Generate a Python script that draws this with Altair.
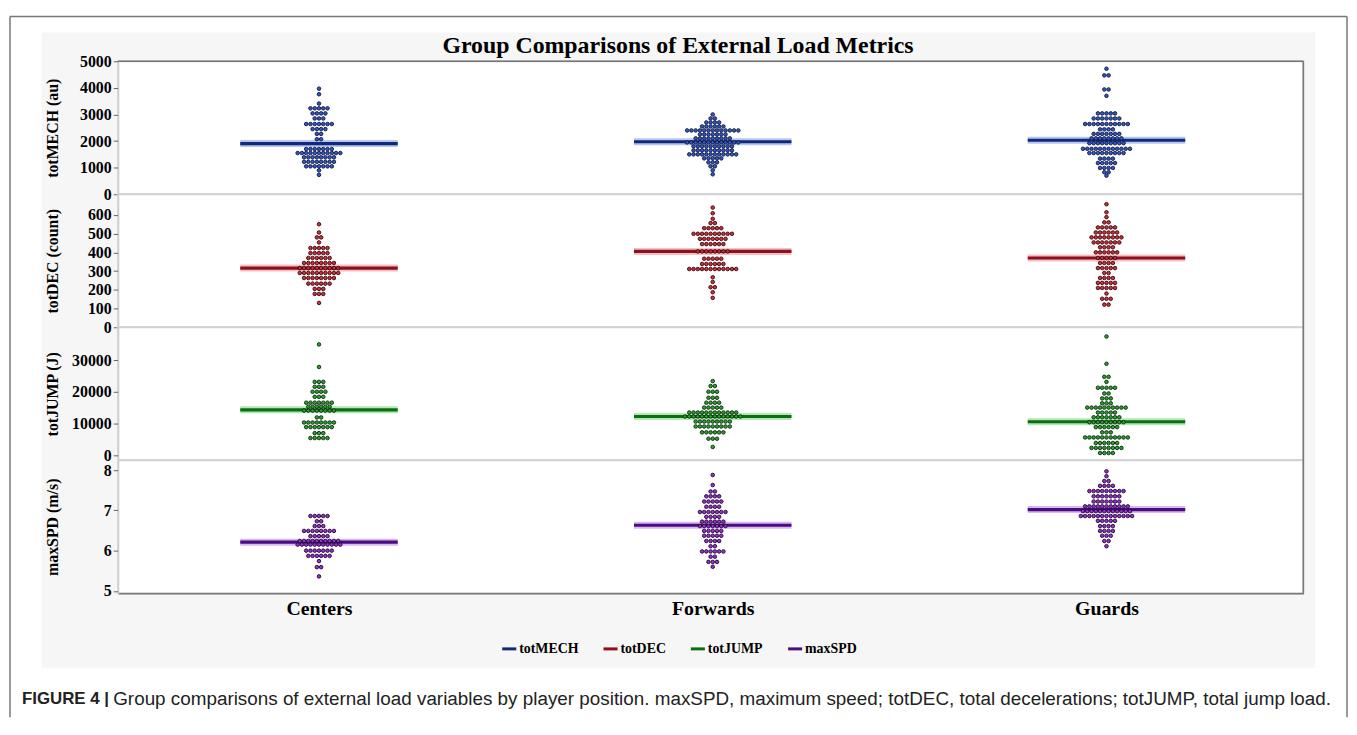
import altair as alt
import pandas as pd

# ---------------- data ----------------
GROUPS = ["Centers", "Forwards", "Guards"]
METRICS = ["totMECH", "totDEC", "totJUMP", "maxSPD"]
AXIS_TITLES = ["totMECH (au)", "totDEC (count)", "totJUMP (J)", "maxSPD (m/s)"]

# totMECH (au): dot rows (value level, number of dots in the row)
MECH_CENTERS_LEVELS = [3970, 3760, 3410, 3230, 3040, 2850, 2640, 2450, 2270, 2070, 1700, 1550, 1390, 1220, 1050, 900, 730]
MECH_CENTERS_COUNTS = [1, 1, 1, 5, 4, 3, 7, 4, 2, 2, 7, 11, 8, 8, 7, 1, 1]
MECH_FORWARDS_LEVELS = [3000, 2850, 2700, 2550, 2400, 2250, 2100, 1950, 1800, 1650, 1500, 1350, 1200, 1050, 900, 750]
MECH_FORWARDS_COUNTS = [1, 2, 4, 6, 13, 7, 9, 13, 10, 10, 12, 5, 3, 2, 1, 1]
MECH_GUARDS_LEVELS = [4720, 4470, 3940, 3700, 3040, 2850, 2640, 2440, 2270, 2100, 1920, 1710, 1550, 1340, 1175, 990, 830, 700]
MECH_GUARDS_COUNTS = [1, 2, 2, 1, 5, 7, 11, 4, 7, 8, 9, 12, 9, 4, 5, 4, 2, 1]

# totDEC (count)
DEC_CENTERS_LEVELS = [550, 506, 480, 453, 423, 396, 370, 343, 316, 290, 263, 233, 205, 178, 130]
DEC_CENTERS_COUNTS = [1, 1, 2, 1, 5, 5, 6, 8, 10, 10, 8, 6, 3, 3, 1]
DEC_FORWARDS_LEVELS = [639, 609, 579, 556, 529, 499, 472, 444, 405, 366, 338, 311, 267, 242, 214, 187, 157]
DEC_FORWARDS_COUNTS = [1, 1, 1, 2, 5, 10, 7, 6, 8, 5, 6, 12, 1, 1, 2, 1, 1]
DEC_GUARDS_LEVELS = [657, 614, 588, 560, 533, 506, 480, 453, 427, 400, 370, 343, 316, 290, 263, 237, 210, 180, 152, 121]
DEC_GUARDS_COUNTS = [1, 1, 1, 2, 5, 6, 8, 7, 4, 6, 5, 4, 5, 2, 4, 5, 5, 1, 3, 2]

# totJUMP (J)
JUMP_CENTERS_LEVELS = [35000, 27900, 23200, 21650, 20100, 18500, 16650, 15400, 14150, 12000, 10400, 8950, 7050, 5500]
JUMP_CENTERS_COUNTS = [1, 1, 3, 3, 4, 3, 7, 6, 8, 2, 8, 7, 3, 5]
JUMP_FORWARDS_LEVELS = [23450, 21900, 20100, 18200, 16650, 15100, 13550, 12300, 10700, 9150, 7300, 5300, 2700]
JUMP_FORWARDS_COUNTS = [1, 2, 3, 3, 4, 5, 12, 14, 9, 9, 6, 3, 1]
JUMP_GUARDS_LEVELS = [37500, 28900, 24800, 23200, 21350, 19550, 18000, 16450, 15100, 13550, 12050, 10500, 8950, 7300, 5700, 3950, 2400, 800]
JUMP_GUARDS_COUNTS = [1, 1, 2, 1, 5, 2, 3, 3, 10, 5, 7, 9, 6, 3, 11, 6, 8, 4]

# maxSPD (m/s)
SPD_CENTERS_LEVELS = [6.86, 6.73, 6.61, 6.49, 6.36, 6.24, 6.15, 6.00, 5.87, 5.74, 5.59, 5.36]
SPD_CENTERS_COUNTS = [5, 2, 3, 8, 5, 10, 11, 7, 6, 1, 2, 1]
SPD_FORWARDS_LEVELS = [7.88, 7.63, 7.47, 7.35, 7.22, 7.09, 6.96, 6.84, 6.72, 6.61, 6.49, 6.37, 6.24, 6.11, 5.98, 5.85, 5.72, 5.60]
SPD_FORWARDS_COUNTS = [1, 1, 2, 4, 5, 4, 7, 4, 6, 7, 5, 5, 4, 2, 6, 2, 3, 1]
SPD_GUARDS_LEVELS = [7.97, 7.85, 7.73, 7.61, 7.48, 7.35, 7.22, 7.10, 6.98, 6.86, 6.74, 6.61, 6.49, 6.37, 6.24, 6.11]
SPD_GUARDS_COUNTS = [1, 1, 2, 4, 9, 7, 7, 11, 12, 13, 5, 4, 4, 3, 2, 1]

# group means (horizontal bars)
MECH_MEANS = [1905, 1975, 2030]
DEC_MEANS = [316, 405, 370]
JUMP_MEANS = [14400, 12300, 10650]
SPD_MEANS = [6.21, 6.63, 7.02]

Y_DOMAINS = [[0, 5000], [0, 710], [-1500, 40400], [4.94, 8.245]]
Y_TICKS = [[0, 1000, 2000, 3000, 4000, 5000],
           [0, 100, 200, 300, 400, 500, 600],
           [0, 10000, 20000, 30000],
           [5, 6, 7, 8]]

TITLE = "Group Comparisons of External Load Metrics"
CAPTION_BOLD = "FIGURE 4 |"
CAPTION_TEXT = ("Group comparisons of external load variables by player position. "
                "maxSPD, maximum speed; totDEC, total decelerations; totJUMP, total jump load.")

# ---------------- styling ----------------
LINE_COLORS = ["#13287a", "#8c1020", "#0c6e12", "#4b0c80"]
GLOW_COLORS = ["#5b82d9", "#e8707c", "#55cc55", "#a860e8"]
DOT_FILL = ["#3558c0", "#c8323f", "#2fa030", "#9333d0"]
DOT_STROKE = ["#0b1540", "#3a0508", "#07280a", "#220532"]

SERIF = "Liberation Serif"
SANS = "Liberation Sans"
W, H = 1194, 134
X_DOMAIN = [-0.51, 2.50]
PX_PER_UNIT = W / (X_DOMAIN[1] - X_DOMAIN[0])
STEP = 4.3 / PX_PER_UNIT     # horizontal dot spacing inside a swarm row
HALF = 0.2                   # half width of the mean bar

LEVELS = [
    [MECH_CENTERS_LEVELS, MECH_FORWARDS_LEVELS, MECH_GUARDS_LEVELS],
    [DEC_CENTERS_LEVELS, DEC_FORWARDS_LEVELS, DEC_GUARDS_LEVELS],
    [JUMP_CENTERS_LEVELS, JUMP_FORWARDS_LEVELS, JUMP_GUARDS_LEVELS],
    [SPD_CENTERS_LEVELS, SPD_FORWARDS_LEVELS, SPD_GUARDS_LEVELS],
]
COUNTS = [
    [MECH_CENTERS_COUNTS, MECH_FORWARDS_COUNTS, MECH_GUARDS_COUNTS],
    [DEC_CENTERS_COUNTS, DEC_FORWARDS_COUNTS, DEC_GUARDS_COUNTS],
    [JUMP_CENTERS_COUNTS, JUMP_FORWARDS_COUNTS, JUMP_GUARDS_COUNTS],
    [SPD_CENTERS_COUNTS, SPD_FORWARDS_COUNTS, SPD_GUARDS_COUNTS],
]
MEANS = [MECH_MEANS, DEC_MEANS, JUMP_MEANS, SPD_MEANS]


def swarm_rows(levels, counts, gi):
    rows = []
    for v, n in zip(levels, counts):
        for i in range(n):
            rows.append({"x": gi + (i - (n - 1) / 2) * STEP, "value": v, "group": GROUPS[gi]})
    return rows


ONE = pd.DataFrame({"k": [0]})


def deco_rect(x, x2, y, y2, **kw):
    return alt.Chart(ONE).mark_rect(**kw).encode(
        x=alt.value(x), x2=alt.value(x2), y=alt.value(y), y2=alt.value(y2))


def deco_hrule(x, x2, y, **kw):
    return alt.Chart(ONE).mark_rule(**kw).encode(x=alt.value(x), x2=alt.value(x2), y=alt.value(y))


def deco_vrule(x, y, y2, **kw):
    return alt.Chart(ONE).mark_rule(**kw).encode(x=alt.value(x), y=alt.value(y), y2=alt.value(y2))


def panel(k):
    pts = []
    for gi in range(3):
        pts += swarm_rows(LEVELS[k][gi], COUNTS[k][gi], gi)
    pdf = pd.DataFrame(pts)
    mdf = pd.DataFrame({
        "x1": [g - HALF for g in range(3)],
        "x2": [g + HALF for g in range(3)],
        "mean": MEANS[k],
        "metric": [METRICS[k]] * 3,
    })
    xs = alt.Scale(domain=X_DOMAIN, nice=False, zero=False)
    ys = alt.Scale(domain=Y_DOMAINS[k], nice=False, zero=False)
    yaxis = alt.Axis(title=AXIS_TITLES[k], values=Y_TICKS[k], format="d",
                     titleX=-66, titleY=H / 2, titleAlign="center", titleBaseline="middle",
                     titleAngle=270, zindex=2)
    if k == 3:
        xaxis = alt.Axis(values=[0, 1, 2], title=None, ticks=False, domain=True,
                         domainColor="#777777", domainWidth=1.5,
                         labelExpr="datum.value == 0 ? 'Centers' : datum.value == 1 ? 'Forwards' : 'Guards'",
                         labelFontSize=20, labelPadding=5, labelAngle=0, zindex=2)
    else:
        xaxis = None

    glow = alt.Chart(mdf).mark_rule(strokeWidth=7, opacity=0.45, color=GLOW_COLORS[k]).encode(
        x=alt.X("x1:Q", scale=xs, axis=xaxis), x2="x2:Q",
        y=alt.Y("mean:Q", scale=ys, axis=yaxis))
    core = alt.Chart(mdf).mark_rule(strokeWidth=3.2).encode(
        x=alt.X("x1:Q", scale=xs, axis=xaxis), x2="x2:Q",
        y=alt.Y("mean:Q", scale=ys, axis=yaxis),
        color=alt.Color("metric:N",
                        scale=alt.Scale(domain=METRICS, range=LINE_COLORS),
                        legend=alt.Legend(orient="none", legendX=385, legendY=583,
                                          direction="horizontal", title=None,
                                          symbolType="stroke", symbolStrokeWidth=3,
                                          symbolSize=200, labelFont=SERIF,
                                          labelFontWeight="bold", labelFontSize=14,
                                          labelColor="black", columnPadding=18,
                                          labelOffset=1)))
    dots = alt.Chart(pdf).mark_point(filled=True, size=13, opacity=1,
                                     fill=DOT_FILL[k], stroke=DOT_STROKE[k],
                                     strokeWidth=0.9).encode(
        x=alt.X("x:Q", scale=xs, axis=xaxis),
        y=alt.Y("value:Q", scale=ys, axis=yaxis))

    layers = []
    if k == 0:
        # light grey figure panel, white plot area, outer figure frame, title
        layers += [
            deco_rect(-77, 1206, -29, 611, color="#f6f6f6"),
            deco_rect(0, W, 0, H, fill="white", stroke="#d2d2d2", strokeWidth=2),
            deco_vrule(-109, -45, 661, color="#777777", strokeWidth=1.5),
            deco_hrule(-109, 1238, -45, color="#777777", strokeWidth=1.5),
            deco_vrule(1238, -45, 661, color="#777777", strokeWidth=1.5),
            alt.Chart(ONE).mark_text(text=TITLE, font=SERIF, fontWeight="bold",
                                     fontSize=24, color="black", baseline="middle").encode(
                x=alt.value(564), y=alt.value(-15)),
        ]
    layers += [glow, core, dots]
    if k == 3:
        layers += [
            deco_hrule(0, W, -3 * H, color="#777777", strokeWidth=1.5),
            deco_vrule(W, -3 * H, H, color="#777777", strokeWidth=1.5),
            alt.Chart(ONE).mark_text(text=CAPTION_BOLD, font=SANS, fontWeight="bold",
                                     fontSize=17, color="#222222", align="left",
                                     baseline="middle").encode(
                x=alt.value(-97), y=alt.value(241)),
            alt.Chart(ONE).mark_text(text=CAPTION_TEXT, font=SANS, fontSize=19,
                                     color="#222222", align="left",
                                     baseline="middle").encode(
                x=alt.value(-5), y=alt.value(241)),
        ]
    return alt.layer(*layers).properties(width=W, height=H)


chart = alt.vconcat(*[panel(k) for k in range(4)], spacing=0, bounds="flush").properties(
    padding={"left": 0, "top": 4, "right": 0, "bottom": 0},
    background="white"
).configure_view(
    stroke="#d2d2d2", strokeWidth=2, fill="white"
).configure_axis(
    labelFont=SERIF, labelFontWeight="bold", labelFontSize=16, labelColor="black",
    titleFont=SERIF, titleFontWeight="bold", titleFontSize=16, titleColor="black",
    tickColor="#666666", tickSize=5, domainColor="#cccccc", grid=False
)

chart.save("out.html", embed_options={"renderer": "svg", "actions": False})
